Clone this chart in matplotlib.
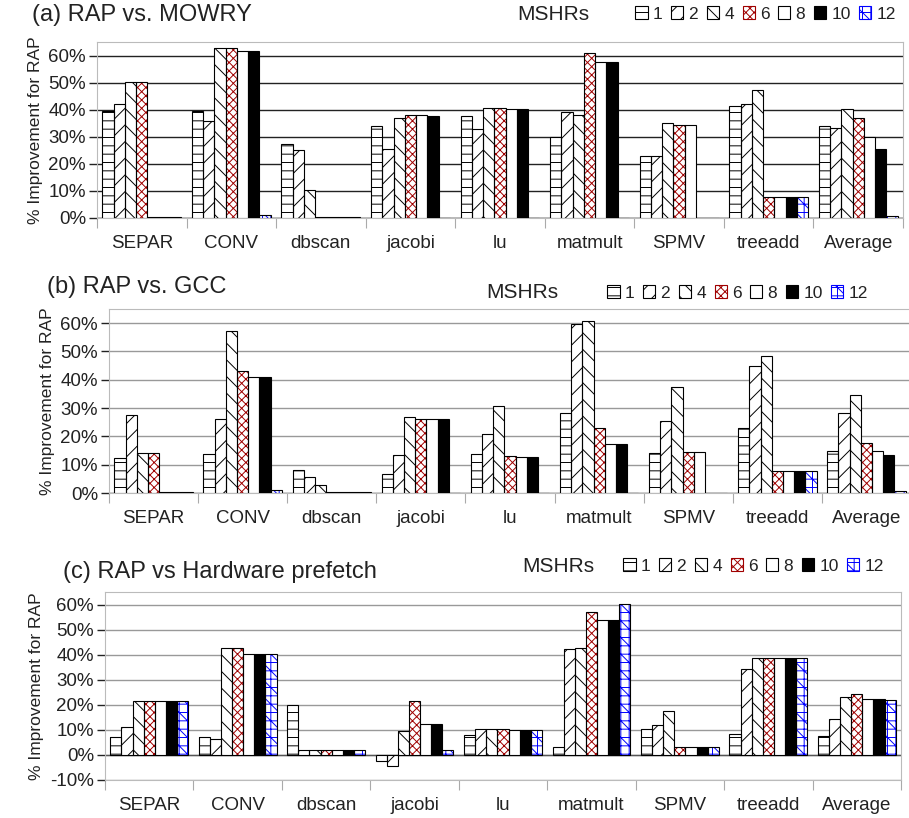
import numpy as np
import matplotlib.pyplot as plt
from matplotlib.patches import Patch

plt.rcParams['font.family'] = ['Liberation Sans', 'DejaVu Sans']
plt.rcParams['hatch.linewidth'] = 0.7

benchmarks = ['SEPAR', 'CONV', 'dbscan', 'jacobi', 'lu', 'matmult', 'SPMV', 'treeadd', 'Average']
mshrs = ['1', '2', '4', '6', '8', '10', '12']

# % improvement, one row per MSHR setting (1,2,4,6,8,10,12), columns = benchmarks
mowry = [
    [39.4, 39.4, 27.3, 34.0, 37.7, 30.0, 23.0, 41.4, 34.0],
    [42.2, 35.9, 25.2, 25.3, 32.7, 39.3, 22.9, 42.2, 33.4],
    [50.2, 62.7, 10.3, 37.0, 40.5, 38.1, 35.1, 47.1, 40.2],
    [50.4, 62.7, 0.2, 38.2, 40.5, 60.9, 34.3, 7.7, 37.0],
    [0.5, 61.6, 0.2, 38.0, 40.4, 57.5, 34.3, 7.7, 30.0],
    [0.5, 61.5, 0.2, 37.6, 40.3, 57.7, 0.0, 7.7, 25.6],
    [0.5, 1.2, 0.2, 0.0, 0.0, 0.0, 0.0, 7.7, 0.7],
]
gcc = [
    [12.5, 13.9, 8.3, 6.7, 13.8, 28.1, 14.1, 22.8, 15.0],
    [27.4, 26.3, 5.8, 13.6, 20.9, 59.8, 25.4, 44.8, 28.1],
    [14.1, 57.2, 2.7, 26.7, 30.6, 60.7, 37.3, 48.3, 34.7],
    [14.1, 43.0, 0.2, 26.1, 13.0, 22.8, 14.6, 7.7, 17.7],
    [0.5, 40.9, 0.2, 26.1, 12.6, 17.4, 14.6, 7.7, 15.0],
    [0.5, 40.9, 0.2, 26.1, 12.6, 17.4, 0.0, 7.7, 13.3],
    [0.5, 1.2, 0.2, 0.0, 0.0, 0.0, 0.0, 7.7, 0.8],
]
hwpref = [
    [7.0, 7.0, 20.1, -2.6, 7.9, 3.3, 10.5, 8.2, 7.7],
    [11.0, 6.4, 2.0, -4.6, 10.5, 42.1, 11.8, 34.4, 14.2],
    [21.5, 42.6, 2.0, 9.5, 10.5, 42.8, 17.5, 38.5, 23.0],
    [21.5, 42.6, 2.0, 21.7, 10.2, 57.1, 3.0, 38.5, 24.5],
    [21.5, 40.4, 2.0, 12.3, 9.8, 53.9, 3.0, 38.5, 22.5],
    [21.5, 40.4, 2.0, 12.3, 9.8, 53.9, 3.0, 38.5, 22.5],
    [21.5, 40.4, 2.0, 2.0, 9.8, 60.3, 3.0, 38.5, 22.0],
]

# style per MSHR series: facecolor, hatch, hatch colour
styles = [
    ('white', '--', 'black'),
    ('white', '//', 'black'),
    ('white', '\\\\', 'black'),
    ('white', 'xxxx', '#a00000'),
    ('white', '', 'black'),
    ('black', '', 'black'),
    ('white', '++\\\\', '#0000ff'),
]

panels = [
    ('(a) RAP vs. MOWRY', mowry, [97/909, 1-218/818, 806/909, 176/818], 0, '#222222',
     (32/909, 1-15/818), (553/909, 1-14/818), (896/909, 1-14/818)),
    ('(b) RAP vs. GCC', gcc, [109/909, 1-493/818, 802/909, 184/818], 0, '#999999',
     (47/909, 1-287/818), (522/909, 1-293/818), (868/909, 1-293/818)),
    ('(c) RAP vs Hardware prefetch', hwpref, [105/909, 1-780/818, 796/909, 188/818], -10, '#999999',
     (63/909, 1-572/818), (558/909, 1-566/818), (884/909, 1-566/818)),
]

fig = plt.figure(figsize=(9.09, 8.18), dpi=100)
x = np.arange(len(benchmarks))
n = len(mshrs)
bw = 0.88 / n

for title, data, rect, ymin, gridc, tpos, mpos, lpos in panels:
    ax = fig.add_axes(rect)
    for i in range(n):
        fc, h, hc = styles[i]
        xs = x - 0.44 + bw * (i + 0.5)
        vals = np.array(data[i])
        ax.bar(xs, vals, bw, color=fc, edgecolor=hc, hatch=h, linewidth=0, zorder=3)
        ax.bar(xs, vals, bw, fill=False, edgecolor='black', linewidth=0.8, zorder=4)

    ax.set_xlim(-0.5, len(benchmarks) - 0.5)
    ax.set_ylim(ymin, 65)
    yt = np.arange(ymin, 61, 10)
    ax.set_yticks(yt)
    ax.set_yticklabels(['%d%%' % v for v in yt], fontsize=13.5, color='#222222')
    ax.yaxis.grid(True, color=gridc, linewidth=1.0, zorder=0)
    ax.axhline(0, color='#555555', linewidth=1.0, zorder=2)
    ax.tick_params(axis='y', length=6, color='#222222', width=1, pad=2)

    ax.set_xticks(np.arange(len(benchmarks) + 1) - 0.5)
    ax.set_xticklabels([])
    ax.set_xticks(x, minor=True)
    ax.set_xticklabels(benchmarks, minor=True, fontsize=13.5, color='#222222')
    ax.tick_params(axis='x', which='major', length=7, color='#aaaaaa', direction='out')
    ax.tick_params(axis='x', which='minor', length=0, pad=12)

    for s in ['left', 'top', 'right', 'bottom']:
        ax.spines[s].set_color('#bbbbbb')
    ax.set_ylabel('% Improvement for RAP', fontsize=12.5, color='#222222', labelpad=4)

    fig.text(tpos[0], tpos[1], title, fontsize=17, color='#222222', va='center', ha='left')
    fig.text(mpos[0], mpos[1], 'MSHRs', fontsize=15, color='#222222', va='center', ha='center')
    handles = [Patch(facecolor=fc, edgecolor=hc, hatch=h, linewidth=0.8) for fc, h, hc in styles]
    fig.legend(handles, mshrs, loc='center right', bbox_to_anchor=lpos, ncol=n, frameon=False,
               fontsize=12.5, handlelength=0.7, handleheight=0.7, handletextpad=0.3,
               columnspacing=0.5, borderpad=0, borderaxespad=0, labelcolor='#222222')

fig.savefig('out.png', dpi=100)
